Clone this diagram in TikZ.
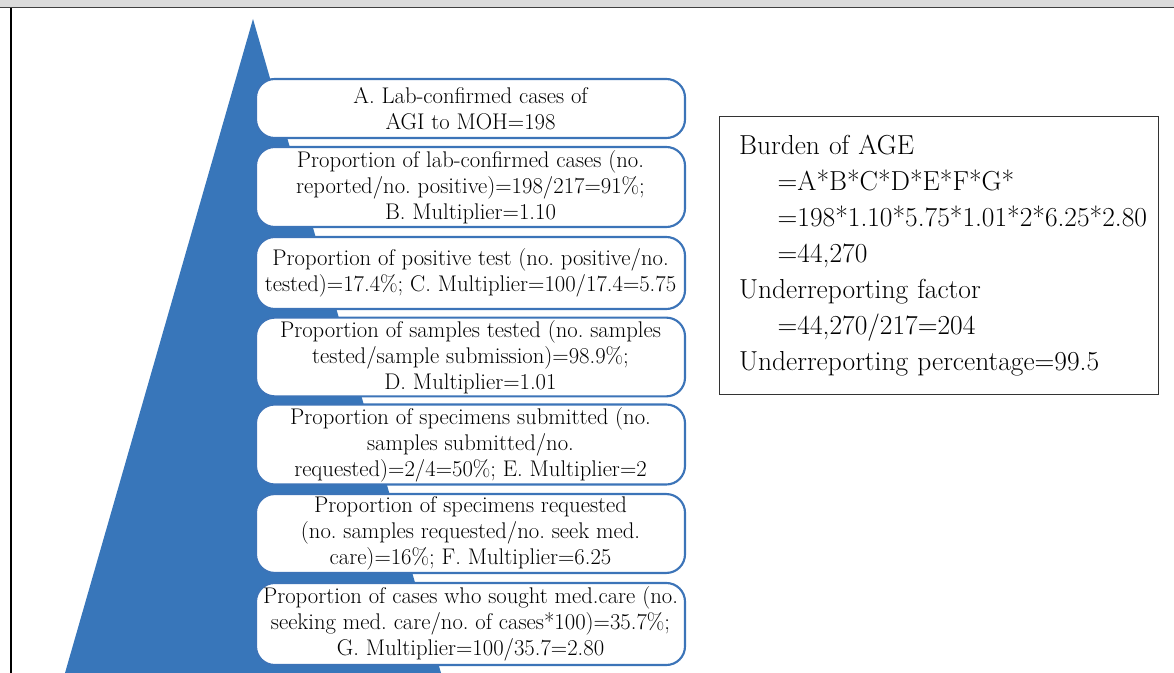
\documentclass[tikz,border=0pt]{standalone}
\usepackage{fontspec}
\definecolor{pyrblue}{RGB}{56,118,186}
\definecolor{edgeblue}{RGB}{60,116,184}
\tikzset{
    stage/.style={draw=edgeblue,line width=1.6pt,fill=white,rounded corners=14pt,
        minimum width=321.75pt,align=center,inner sep=2pt,
        font=\fontsize{17}{19.5}\selectfont},
    sumbox/.style={draw=black!80,line width=0.8pt,anchor=north west,align=left,
        minimum width=329.25pt,minimum height=208.5pt,text width=300pt,
        inner xsep=12.75pt,font=\fontsize{20.6}{27}\selectfont}
}
\frenchspacing
\begin{document}
\begin{tikzpicture}[x=0.75pt,y=-0.75pt]
            \useasboundingbox (0,0) rectangle (1174,673);
            % caption strip and frame
            \fill[black!14] (0,0) rectangle (1174,7);
            \draw[black!75,line width=1.2pt] (0,7.5) -- (1174,7.5);
            \draw[black,line width=0.8pt] (11,8) -- (11,673);
            % pyramid
            \fill[pyrblue] (253,19) -- (441,673) -- (65,673) -- cycle;
            % stages
            \node[stage,minimum height=44.25pt] (stA) at (470.5,108.5)
                {A. Lab-confirmed cases of\\AGI to MOH=198};
            \node[stage,minimum height=60pt] (stB) at (470.5,187)
                {Proportion of lab-confirmed cases (no.\\reported/no. positive)=198/217=91\%;\\B. Multiplier=1.10};
            \node[stage,minimum height=54pt] (stC) at (470.5,273)
                {Proportion of positive test (no. positive/no.\\tested)=17.4\%; C. Multiplier=100/17.4=5.75};
            \node[stage,minimum height=58.5pt] (stD) at (470.5,357)
                {Proportion of samples tested (no. samples\\tested/sample submission)=98.9\%;\\D. Multiplier=1.01};
            \node[stage,minimum height=57.75pt] (stE) at (470.5,444.5)
                {Proportion of specimens submitted (no.\\samples submitted/no.\\requested)=2/4=50\%; E. Multiplier=2};
            \node[stage,minimum height=57.75pt] (stF) at (470.5,533.5)
                {Proportion of specimens requested\\(no. samples requested/no. seek med.\\care)=16\%; F. Multiplier=6.25};
            \node[stage,minimum height=61.5pt] (stG) at (470.5,624)
                {Proportion of cases who sought med.care (no.\\seeking med. care/no. of cases*100)=35.7\%;\\G. Multiplier=100/35.7=2.80};
            % result
            \node[sumbox] (res) at (719,116)
                {Burden of AGE\\
                \hspace*{29pt}=A*B*C*D*E*F*G*\\
                \hspace*{29pt}=198*1.10*5.75*1.01*2*6.25*2.80\\
                \hspace*{29pt}=44,270\\
                Underreporting factor\\
                \hspace*{29pt}=44,270/217=204\\
                Underreporting percentage=99.5};
        \end{tikzpicture}
\end{document}
